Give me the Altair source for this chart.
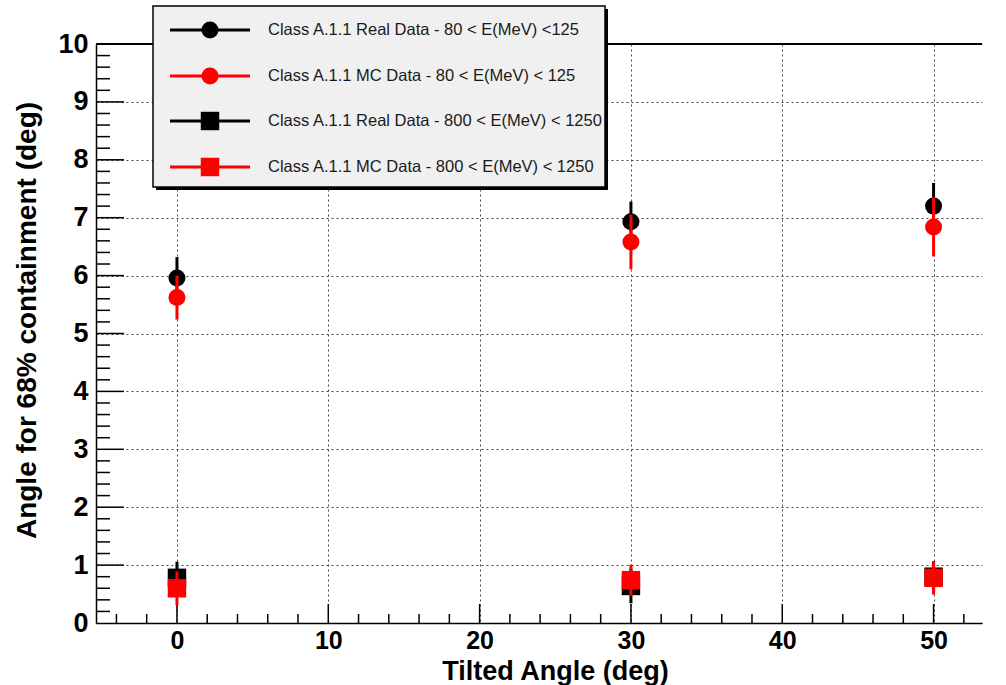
import altair as alt
import pandas as pd

# ---- data ----
tilt = [0, 30, 50]
real_low = [5.96, 6.93, 7.20]
real_low_err = [0.36, 0.35, 0.40]
mc_low = [5.62, 6.58, 6.84]
mc_low_err = [0.38, 0.47, 0.51]
real_high = [0.78, 0.64, 0.80]
real_high_err = [0.28, 0.30, 0.27]
mc_high = [0.60, 0.74, 0.78]
mc_high_err = [0.29, 0.27, 0.29]

series_names = [
    "Class A.1.1 Real Data - 80 < E(MeV) <125",
    "Class A.1.1 MC Data - 80 < E(MeV) < 125",
    "Class A.1.1 Real Data - 800 < E(MeV) < 1250",
    "Class A.1.1 MC Data - 800 < E(MeV) < 1250",
]
series_vals = [real_low, mc_low, real_high, mc_high]
series_errs = [real_low_err, mc_low_err, real_high_err, mc_high_err]
series_colors = ["black", "#ff0000", "black", "#ff0000"]
series_shapes = ["circle", "circle", "square", "square"]
series_sizes = [290, 290, 340, 340]

x_labels = [0, 10, 20, 30, 40, 50]
x_minor = [v for v in range(-4, 53, 2) if v % 10 != 0]
y_labels = [0, 1, 2, 3, 4, 5, 6, 7, 8, 9, 10]
y_major = [1, 2, 3, 4, 5, 6, 7, 8, 9]
y_minor = [round(k * 0.2, 1) for k in range(1, 50) if k % 5 != 0]

W, H = 886, 579
FONT = "Liberation Sans"

xs = alt.Scale(domain=[-5.35, 53.2], nice=False, zero=False)
ys = alt.Scale(domain=[0, 10], nice=False, zero=True)

x_axis = alt.Axis(
    values=x_labels, title="Tilted Angle (deg)", format="d",
    labelFont=FONT, labelFontSize=25, labelFontWeight="bold", labelColor="black",
    labelPadding=5, ticks=False, grid=True, gridDash=[2, 3], gridColor="#444",
    gridWidth=1, domainColor="black", domainWidth=1.5,
    titleFont=FONT, titleFontSize=27, titleFontWeight="bold", titleColor="black",
    titleX=459, titleY=56, titleBaseline="alphabetic", titleAlign="center",
)
y_axis = alt.Axis(
    values=y_labels, title="Angle for 68% containment (deg)", format="d",
    labelFont=FONT, labelFontSize=27, labelFontWeight="bold", labelColor="black",
    labelPadding=8, ticks=False, grid=True, gridDash=[2, 3], gridColor="#444",
    gridWidth=1, domainColor="black", domainWidth=1.5,
    titleFont=FONT, titleFontSize=28, titleFontWeight="bold", titleColor="black",
    titleX=-69, titleY=276, titleAngle=270, titleBaseline="middle", titleAlign="center",
)

layers = []

# inward tick marks
def xticks(vals, length, width):
    d = pd.DataFrame({"t": vals})
    return alt.Chart(d).mark_rule(color="black", strokeWidth=width).encode(
        x=alt.X("t:Q", scale=xs, axis=x_axis),
        y=alt.value(H), y2=alt.value(H - length))

def yticks(vals, length, width):
    d = pd.DataFrame({"t": vals})
    return alt.Chart(d).mark_rule(color="black", strokeWidth=width).encode(
        y=alt.Y("t:Q", scale=ys, axis=y_axis),
        x=alt.value(0), x2=alt.value(length))

layers += [xticks(x_labels, 19, 1.5), xticks(x_minor, 9, 1.5),
           yticks(y_major, 28, 1.5), yticks(y_minor, 14, 1.5)]

# top frame line
one = pd.DataFrame({"a": [0]})
layers.append(alt.Chart(one).mark_rule(color="black", strokeWidth=2).encode(
    x=alt.value(0), x2=alt.value(W), y=alt.value(0)))

# data series
for name, vals, errs, col, shp, sz in zip(series_names, series_vals, series_errs,
                                          series_colors, series_shapes, series_sizes):
    d = pd.DataFrame({
        "tilt": tilt, "val": vals,
        "lo": [v - e for v, e in zip(vals, errs)],
        "hi": [v + e for v, e in zip(vals, errs)],
    })
    err = alt.Chart(d).mark_rule(color=col, strokeWidth=3).encode(
        x=alt.X("tilt:Q", scale=xs, axis=x_axis),
        y=alt.Y("lo:Q", scale=ys, axis=y_axis), y2="hi:Q")
    pts = alt.Chart(d).mark_point(shape=shp, filled=True, size=sz, color=col,
                                  opacity=1, strokeWidth=0).encode(
        x=alt.X("tilt:Q", scale=xs, axis=x_axis),
        y=alt.Y("val:Q", scale=ys, axis=y_axis))
    layers += [err, pts]

# legend box (with shadow)
LX0, LX1, LY0, LY1 = 57, 509, -38, 143
layers.append(alt.Chart(one).mark_rect(color="black").encode(
    x=alt.value(LX0 + 3), x2=alt.value(LX1 + 3), y=alt.value(LY0 + 3), y2=alt.value(LY1 + 3)))
layers.append(alt.Chart(one).mark_rect(fill="#f0f0f0", stroke="black", strokeWidth=1.5).encode(
    x=alt.value(LX0), x2=alt.value(LX1), y=alt.value(LY0), y2=alt.value(LY1)))

row_y = [-14, 32, 77, 123]
for name, col, shp, sz, ry in zip(series_names, series_colors, series_shapes,
                                  series_sizes, row_y):
    layers.append(alt.Chart(one).mark_rule(color=col, strokeWidth=3).encode(
        x=alt.value(74), x2=alt.value(154), y=alt.value(ry)))
    layers.append(alt.Chart(one).mark_point(shape=shp, filled=True, size=sz, color=col,
                                            opacity=1, strokeWidth=0).encode(
        x=alt.value(114), y=alt.value(ry)))
    layers.append(alt.Chart(one).mark_text(
        text=name, font=FONT, fontSize=16.5, color="#1a1a1a", align="left",
        baseline="middle").encode(x=alt.value(172), y=alt.value(ry)))

chart = alt.layer(*layers).properties(
    width=W, height=H,
    autosize=alt.AutoSizeParams(type="none"),
    padding={"left": 96, "top": 44, "right": 24, "bottom": 62},
    background="white",
).configure_view(stroke=None)

chart.save("out.html", embed_options={"renderer": "svg", "actions": False})
